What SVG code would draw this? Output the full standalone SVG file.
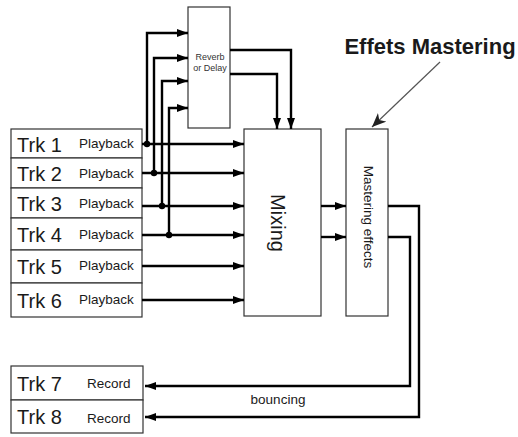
<svg xmlns="http://www.w3.org/2000/svg" width="518" height="437" viewBox="0 0 518 437">
<style>
.box{fill:#fff;stroke:#333;stroke-width:1.2}
.ln{fill:none;stroke:#000;stroke-width:2.4}
.trk{font-family:"Liberation Sans",Arial,sans-serif;font-size:20px;fill:#1a1a1a}
.sm{font-family:"Liberation Sans",Arial,sans-serif;font-size:13.5px;fill:#1a1a1a}
</style>
<defs>
<marker id="ah" markerUnits="userSpaceOnUse" markerWidth="12" markerHeight="8" refX="11" refY="4" orient="auto">
<path d="M0,0 L11,4 L0,8 z" fill="#000"/>
</marker>
<marker id="ah2" markerUnits="userSpaceOnUse" markerWidth="14" markerHeight="12" refX="14" refY="6" orient="auto">
<path d="M0,0 L14,6 L0,12 L4,6 z" fill="#222"/>
</marker>
</defs>
<rect width="518" height="437" fill="#fff"/>
<g id="reverb"><rect class="box" x="188" y="7" width="42" height="121"/>
<text x="210" y="60" text-anchor="middle" font-family="Liberation Sans,Arial,sans-serif" font-size="9" fill="#333">Reverb</text>
<text x="210" y="71" text-anchor="middle" font-family="Liberation Sans,Arial,sans-serif" font-size="9" fill="#333">or Delay</text></g>
<g id="mixing"><rect class="box" x="244" y="129" width="77" height="187"/>
<text transform="translate(278,223) rotate(90)" y="7" text-anchor="middle" class="trk">Mixing</text></g>
<g id="mastering"><rect class="box" x="346" y="129" width="42" height="187"/>
<text transform="translate(367,217) rotate(90)" y="3" text-anchor="middle" class="sm" font-size="14.3">Mastering effects</text></g>
<g id="trk1"><rect class="box" x="11" y="129" width="131" height="29"/><text class="trk" x="17" y="152">Trk 1</text><text class="sm" x="79" y="148">Playback</text></g>
<g id="trk2"><rect class="box" x="11" y="158" width="131" height="30"/><text class="trk" x="17" y="181">Trk 2</text><text class="sm" x="79" y="178">Playback</text></g>
<g id="trk3"><rect class="box" x="11" y="188" width="131" height="30"/><text class="trk" x="17" y="211">Trk 3</text><text class="sm" x="79" y="208">Playback</text></g>
<g id="trk4"><rect class="box" x="11" y="218" width="131" height="32"/><text class="trk" x="17" y="242">Trk 4</text><text class="sm" x="79" y="239">Playback</text></g>
<g id="trk5"><rect class="box" x="11" y="250" width="131" height="33"/><text class="trk" x="17" y="274">Trk 5</text><text class="sm" x="79" y="270">Playback</text></g>
<g id="trk6"><rect class="box" x="11" y="283" width="131" height="34"/><text class="trk" x="17" y="308">Trk 6</text><text class="sm" x="79" y="304">Playback</text></g>
<g id="trk7"><rect class="box" x="11" y="366" width="132" height="34"/><text class="trk" x="17" y="391">Trk 7</text><text class="sm" x="87" y="388">Record</text></g>
<g id="trk8"><rect class="box" x="11" y="400" width="132" height="33"/><text class="trk" x="17" y="424">Trk 8</text><text class="sm" x="87" y="423">Record</text></g>
<g id="connectors">
<path class="ln" d="M142,144 H244" marker-end="url(#ah)"/>
<path class="ln" d="M142,173 H244" marker-end="url(#ah)"/>
<path class="ln" d="M142,206 H244" marker-end="url(#ah)"/>
<path class="ln" d="M142,235 H244" marker-end="url(#ah)"/>
<path class="ln" d="M142,266 H244" marker-end="url(#ah)"/>
<path class="ln" d="M142,300 H244" marker-end="url(#ah)"/>
<path class="ln" d="M147,144 V33 H188" marker-end="url(#ah)"/>
<path class="ln" d="M154,173 V58 H188" marker-end="url(#ah)"/>
<path class="ln" d="M162,206 V81 H188" marker-end="url(#ah)"/>
<path class="ln" d="M169,235 V108 H188" marker-end="url(#ah)"/>
<circle cx="147" cy="144" r="3.2"/>
<circle cx="154" cy="173" r="3.2"/>
<circle cx="162" cy="206" r="3.2"/>
<circle cx="169" cy="235" r="3.2"/>
<path class="ln" d="M230,50 H291 V129" marker-end="url(#ah)"/>
<path class="ln" d="M230,74 H277 V129" marker-end="url(#ah)"/>
<path class="ln" d="M321,206 H346" marker-end="url(#ah)"/>
<path class="ln" d="M321,237 H346" marker-end="url(#ah)"/>
<path class="ln" stroke-width="2" d="M388,206 H419 V417 H145" marker-end="url(#ah)"/>
<path class="ln" stroke-width="2" d="M388,237 H410 V386 H145" marker-end="url(#ah)"/>
<path d="M440,62 L372,127" stroke="#555" stroke-width="1.2" fill="none" marker-end="url(#ah2)"/>
</g>
<text x="278" y="404" text-anchor="middle" class="sm">bouncing</text>
<text x="430" y="54" text-anchor="middle" font-family="Liberation Sans,Arial,sans-serif" font-size="22" font-weight="bold" fill="#1a1a1a">Effets Mastering</text>
</svg>
